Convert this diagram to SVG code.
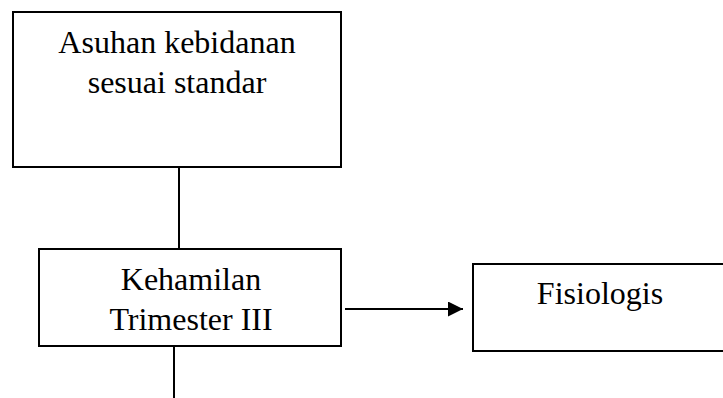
<svg xmlns="http://www.w3.org/2000/svg" width="723" height="398" viewBox="0 0 723 398">
<style>
.box{fill:#fff;stroke:#000;stroke-width:2}
.t{font-family:"Liberation Serif","Times New Roman",serif;font-size:32px;fill:#000;text-anchor:middle}
.c{stroke:#000;stroke-width:2;fill:none}
</style>
<defs>
<marker id="arr" markerWidth="15" markerHeight="15" refX="15" refY="7.5" orient="auto" markerUnits="userSpaceOnUse">
<path d="M0,0 L15,7.5 L0,15 Z" fill="#000"/>
</marker>
</defs>
<rect width="723" height="398" fill="#fff"/>
<g id="connectors">
<line class="c" x1="179" y1="168" x2="179" y2="249"/>
<line class="c" x1="174" y1="347" x2="174" y2="398"/>
<line class="c" x1="345" y1="309" x2="463" y2="309" marker-end="url(#arr)"/>
</g>
<g id="n1">
<rect class="box" x="13" y="12" width="328" height="155"/>
<text class="t" x="177" y="53">Asuhan kebidanan</text>
<text class="t" x="177" y="93">sesuai standar</text>
</g>
<g id="n2">
<rect class="box" x="39" y="249" width="302" height="97"/>
<text class="t" x="191" y="290">Kehamilan</text>
<text class="t" x="191" y="330">Trimester III</text>
</g>
<g id="n3">
<rect class="box" x="473" y="264" width="260" height="87"/>
<text class="t" x="600" y="304">Fisiologis</text>
</g>
</svg>
